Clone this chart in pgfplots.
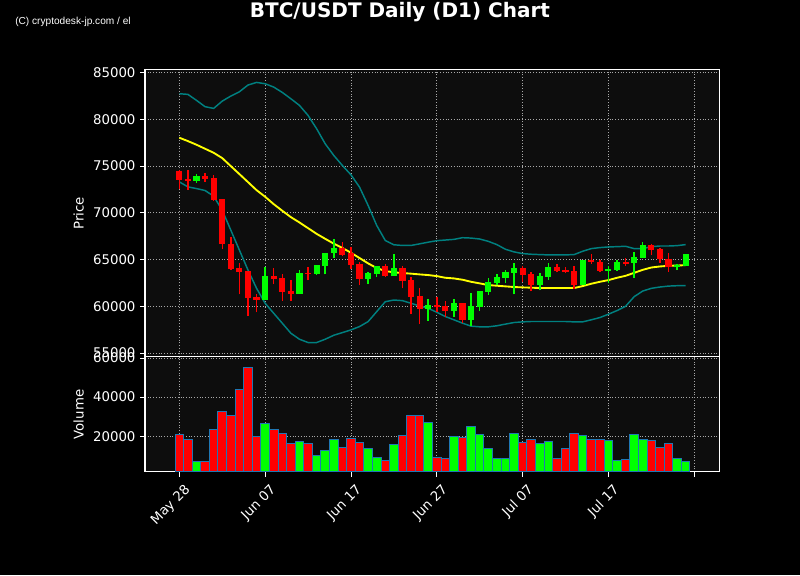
\documentclass[border=0pt]{standalone}
\usepackage{fontspec}
\setmainfont{DejaVu Sans}
\newfontfamily\cfont{Liberation Sans}
\usepackage{pgfplots}
\pgfplotsset{compat=1.18}
\usepackage{pgfplotstable}

\definecolor{bg}{HTML}{0D0D0D}
\definecolor{gridc}{HTML}{A8A8A8}
\definecolor{band}{RGB}{0,128,128}
\definecolor{edge}{RGB}{31,119,180}
\definecolor{cred}{RGB}{255,0,0}
\definecolor{cgreen}{RGB}{0,255,0}
\definecolor{sma}{RGB}{255,255,0}

% green candles: x open high low close
\pgfplotstableread{
x o h l c
2 73420 74140 73200 73920
10 60650 64240 60650 63240
14 61330 63850 61330 63560
16 63490 64420 63350 64420
17 64350 65720 63420 65720
18 65720 67190 65220 66260
22 62910 63690 62380 63580
23 63470 64360 63160 64290
25 63260 65640 63260 64080
29 59750 60740 58440 60110
32 59540 60740 58900 60320
34 58550 61380 57840 60040
35 59960 61630 59540 61630
36 61560 62980 61200 62590
37 62480 63440 62230 63120
38 63050 63870 62450 63690
39 63580 64680 61270 64080
42 62300 63510 61700 63230
43 63120 64680 62840 64180
47 62300 65000 62230 65000
50 63800 64360 62450 63970
51 63870 64930 63800 64790
53 64610 65780 63050 65250
54 65180 66910 65140 66520
58 64150 64570 63870 64400
59 64330 65570 64330 65570
}\upc

% red candles: x open high low close
\pgfplotstableread{
x o h l c
0 74460 74600 72500 73525
1 73600 74570 72480 73420
3 73920 74280 73350 73630
4 73700 74060 71260 71400
5 71440 71500 66080 66650
6 66650 67450 63920 64030
7 64100 64680 61260 63700
8 63780 63800 58990 60900
9 60970 61330 59350 60680
11 63240 64060 62340 62950
12 63020 63420 60610 61550
13 61620 62770 60610 61330
15 63560 64240 62770 63450
19 66280 66910 65350 65530
20 65740 66350 63940 64430
21 64500 64750 62230 62910
24 64290 64570 63160 63260
26 64080 64290 61910 62730
27 62800 63160 59150 60990
28 61060 61910 58090 59750
30 60110 60960 59400 59930
31 60040 60530 58900 59540
33 60320 60320 58190 58550
40 64080 64290 62590 63330
41 63440 63690 61600 62230
44 64180 64500 63620 63760
45 63870 64180 63510 63650
46 63760 64360 61840 62300
48 65000 65570 64570 64750
49 64790 64930 63620 63760
52 64790 65140 64320 64570
55 66520 66700 65500 65990
56 66100 66280 64650 65040
57 65110 65710 63690 64150
}\downc

% Bollinger bands (20,2) and SMA
\pgfplotstableread{
x up mid lo
0 82750 78040 73310
1 82680 77680 72780
2 82040 77290 72600
3 81360 76860 72390
4 81180 76430 71780
5 81960 75860 70280
6 82500 75000 68150
7 82960 74150 66010
8 83680 73290 63880
9 83960 72430 61920
10 83820 71720 60320
11 83460 70930 59250
12 82890 70220 58180
13 82210 69540 57110
14 81500 68970 56470
15 80430 68360 56120
16 79000 67750 56120
17 77390 67220 56470
18 76140 66700 56900
19 75070 66240 57180
20 74070 65730 57470
21 72750 65160 57830
22 70790 64590 58360
23 68650 64090 59430
24 67040 63770 60490
25 66580 63630 60670
26 66510 63560 60600
27 66510 63490 60320
28 66680 63410 60030
29 66860 63340 59780
30 67020 63230 59360
31 67090 63050 58900
32 67160 62980 58550
33 67340 62840 58190
34 67300 62620 57870
35 67200 62450 57800
36 66950 62270 57800
37 66600 62200 57910
38 66100 62130 58090
39 65820 62060 58260
40 65640 62020 58330
41 65570 61990 58370
42 65530 61950 58370
43 65500 61950 58370
44 65500 61950 58370
45 65500 61950 58370
46 65530 61950 58330
47 65890 62160 58330
48 66170 62410 58550
49 66280 62620 58790
50 66350 62800 59150
51 66380 63050 59540
52 66420 63260 60000
53 66170 63580 61030
54 66170 63900 61630
55 66380 64150 61920
56 66450 64260 62060
57 66450 64330 62160
58 66490 64360 62200
59 66600 64400 62200
}\bands

\pgfplotstableread{
x v
2 7180
10 26670
14 17440
16 9920
17 12820
18 18460
22 13850
23 9230
25 15560
29 27180
32 20000
34 25130
35 21030
36 13850
37 8720
38 8720
39 21540
42 16410
43 17440
47 20510
50 17950
51 7700
53 21030
54 18460
58 8720
59 7180
}\upvol

\pgfplotstableread{
x v
0 21030
1 18460
3 6840
4 23590
5 32820
6 30430
7 43760
8 55380
9 19660
11 23250
12 21540
13 16070
15 16410
19 14360
20 18970
21 16920
24 7700
26 20170
27 30770
28 30430
30 9230
31 8720
33 19490
40 16920
41 18460
44 8720
45 13850
46 21540
48 18460
49 18460
52 8210
55 17950
56 14360
57 16410
}\downvol

\pgfplotsset{
  common/.style={
    scale only axis,
    width=431.25pt,
    xmin=-4, xmax=63,
    axis background/.style={fill=bg},
    axis line style={white, line width=0.75pt},
    tick style={white, line width=0.6pt},
    major tick length=3.6pt,
    tick align=outside,
    xtick pos=lower, ytick pos=left,
    xtick={0,10,20,30,40,50,60},
    grid=major,
    major grid style={gridc, dash pattern=on 0.75pt off 1.3pt, line width=0.6pt},
    ticklabel style={white, font=\fontsize{10}{12}\selectfont},
    label style={white, font=\fontsize{10}{12}\selectfont},
    /pgf/number format/assume math mode=true,
    /pgf/number format/1000 sep={},
    scaled ticks=false,
  },
  candlewick/.style={draw=none, mark=none, error bars/.cd, y dir=plus, y explicit, error mark=none,
    error bar style={line width=1.1pt, line cap=butt, draw=#1, solid}},
  candlebody/.style={draw=none, mark=none, error bars/.cd, y dir=plus, y explicit, error mark=none,
    error bar style={line width=4.6pt, line cap=butt, draw=#1, solid}},
}

\begin{document}
\begin{tikzpicture}
\fill[black] (0,0) rectangle (600pt,431.25pt);

\begin{axis}[common,
  at={(108.75pt,163.5pt)}, anchor=south west,
  height=215.25pt,
  ymin=54570, ymax=85290,
  ytick={55000,60000,65000,70000,75000,80000,85000},
  xticklabels={}, xtick style={draw=none},
  ylabel={Price},
]
\addplot[band, line width=1.1pt] table[x=x, y=up] {\bands};
\addplot[band, line width=1.1pt] table[x=x, y=lo] {\bands};
\addplot[sma, line width=1.4pt] table[x=x, y=mid] {\bands};
\addplot[candlewick=cgreen] table[x=x, y=l, y error plus expr=\thisrow{h}-\thisrow{l}] {\upc};
\addplot[candlewick=cred] table[x=x, y=l, y error plus expr=\thisrow{h}-\thisrow{l}] {\downc};
\addplot[candlebody=cgreen] table[x=x, y=o, y error plus expr=\thisrow{c}-\thisrow{o}] {\upc};
\addplot[candlebody=cred] table[x=x, y=c, y error plus expr=\thisrow{o}-\thisrow{c}] {\downc};
\end{axis}

\begin{axis}[common,
  at={(108.75pt,77.25pt)}, anchor=south west,
  height=86.25pt,
  ymin=1700, ymax=60500,
  ytick={20000,40000,60000},
  xticklabels={May 28, Jun 07, Jun 17, Jun 27, Jul 07, Jul 17, {}},
  xticklabel style={xshift=9pt, yshift=-6pt, rotate=45, anchor=east},
  ylabel={Volume},
]
\addplot[ybar, bar width=1, bar shift=0pt, fill=cred, draw=edge, line width=0.75pt] table[x=x, y=v] {\downvol};
\addplot[ybar, bar width=1, bar shift=0pt, fill=cgreen, draw=edge, line width=0.75pt] table[x=x, y=v] {\upvol};
\end{axis}

\node[white, font=\bfseries\fontsize{15}{17}\selectfont] at (300pt,422.5pt) {BTC/USDT Daily (D1) Chart};
\node[white, anchor=west, inner sep=0pt, font=\cfont\fontsize{7.6}{9}\selectfont] at (11.25pt,414.8pt) {(C) cryptodesk-jp.com / el};

\pgfresetboundingbox
\path (0,0) rectangle (600pt,431.25pt);
\end{tikzpicture}
\end{document}
